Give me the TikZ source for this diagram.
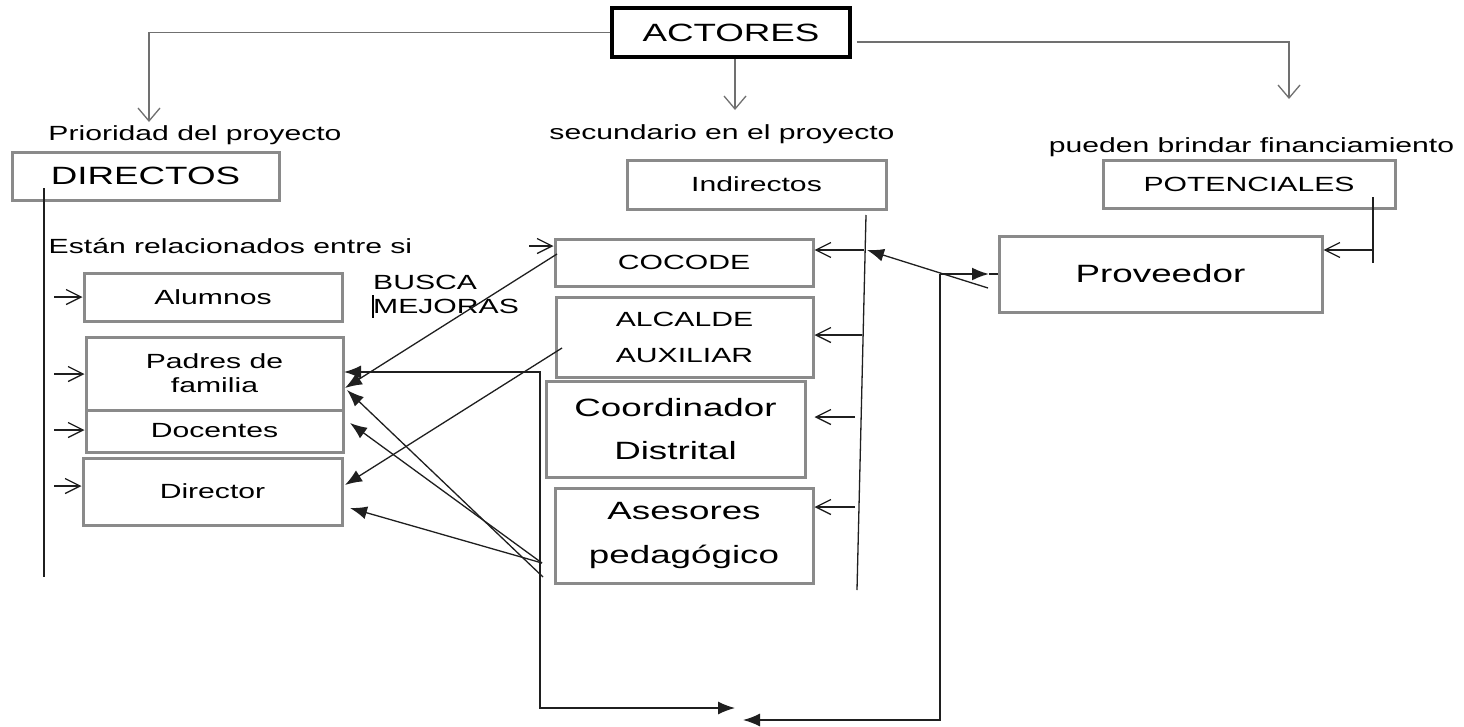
\documentclass[tikz,border=0pt]{standalone}
\usepackage{fontspec}
\setmainfont{Liberation Sans}[FakeStretch=1.47]
\usetikzlibrary{arrows.meta,calc}
\definecolor{boxgray}{HTML}{8A8A8A}
\definecolor{lgray}{HTML}{707070}
\begin{document}
\begin{tikzpicture}[x=1pt,y=-1pt,
  box/.style={draw=boxgray,line width=3pt,inner sep=0pt,align=center},
  fs/.style={font=\fontsize{20.5}{24}\selectfont},
  fb/.style={font=\fontsize{25}{30}\selectfont},
  ln/.style={line width=1.3pt,draw=black!88},
  gl/.style={line width=1.3pt,draw=lgray},
  oa/.style={-{Straight Barb[length=15pt,width=15pt]}},
  ga/.style={-{Straight Barb[length=13pt,width=22pt]}},
  fa/.style={-{Latex[length=17pt,width=13pt]}},
  fda/.style={{Latex[length=17pt,width=13pt]}-{Latex[length=17pt,width=13pt]}},
  lbl/.style={inner sep=0pt}
]
\useasboundingbox (0,0) rectangle (1464,726);
\fill[white] (0,0) rectangle (1464,726);

% ---- boxes ----
\node[box,draw=black,line width=3.5pt,minimum width=238pt,minimum height=49pt,fb] (actores) at (731,32.5) {ACTORES};
\node[box,minimum width=267pt,minimum height=48pt,fb] (directos) at (145.5,176) {DIRECTOS};
\node[box,minimum width=259pt,minimum height=49pt,fs] (indirectos) at (756.5,184.5) {Indirectos};
\node[box,minimum width=292pt,minimum height=48pt,fs] (potenciales) at (1249,184) {POTENCIALES};
\node[box,minimum width=323pt,minimum height=76pt,fb] (proveedor) at (1160.5,274) {Proveedor};

\node[box,minimum width=258pt,minimum height=48pt,fs] (alumnos) at (213,297) {Alumnos};
\node[box,minimum width=257pt,minimum height=73pt,fs] (padres) at (214.5,373.5) {Padres de\\familia};
\node[box,minimum width=257pt,minimum height=42pt,fs] (docentes) at (214.5,431) {Docentes};
\node[box,minimum width=259pt,minimum height=67pt,fs] (director) at (212.5,491.5) {Director};

\node[box,minimum width=258pt,minimum height=47pt,fs] (cocode) at (684,262.5) {COCODE};
\node[box,minimum width=257pt,minimum height=80pt,font=\fontsize{20.5}{36}\selectfont] (alcalde) at (684.5,337) {ALCALDE\\AUXILIAR};
\node[box,minimum width=259pt,minimum height=96pt,font=\fontsize{25}{43}\selectfont] (coord) at (675.5,429) {Coordinador\\Distrital};
\node[box,minimum width=258pt,minimum height=95pt,font=\fontsize{25}{44}\selectfont] (asesores) at (684,535.5) {Asesores\\pedagógico};

% ---- labels ----
\node[lbl,fs] (lprio) at (195,135) {Prioridad del proyecto};
\node[lbl,fs] (lsec) at (722,134) {secundario en el proyecto};
\node[lbl,fs] (lpue) at (1251.5,147) {pueden brindar financiamiento};
\node[lbl,fs] (lest) at (230.5,246) {Están relacionados entre si};
\node[lbl,fs,align=left,anchor=west] (lbus) at (373,294) {BUSCA\\MEJORAS};
\coordinate (car1) at (373,295);
\coordinate (car2) at (373,318);
\draw[line width=1.2pt] (car1) -- (car2);

% ---- ACTORES connectors ----
\coordinate (tl) at (149,122);
\coordinate (tm) at (735,110);
\coordinate (tr) at (1289,99);
\draw[gl,ga] (actores.west) -| (tl);
\draw[gl,ga] (tm |- actores.south) -- (tm);
\draw[gl,ga] ($(actores.east)+(5,9.5)$) -| (tr);

% ---- DIRECTOS column ----
\coordinate (dl1) at (44,188);
\coordinate (dl2) at (44,577);
\draw[ln] (dl1) -- (dl2);
\coordinate (a1) at (54,297);
\coordinate (a2) at (54,374);
\coordinate (a3) at (54,430);
\coordinate (a4) at (54,486);
\draw[ln,oa] (a1) -- (a1 -| alumnos.west);
\draw[ln,oa] (a2) -- (a2 -| padres.west);
\draw[ln,oa] (a3) -- (a3 -| docentes.west);
\draw[ln,oa] (a4) -- (a4 -| director.west);

% ---- Indirectos column ----
\coordinate (ml1) at (866,215);
\coordinate (ml2) at (857,590);
\draw[ln] (ml1) -- (ml2);
\coordinate (m1) at (864,250);
\coordinate (m2) at (862,335);
\coordinate (m3) at (855,417);
\coordinate (m4) at (855,507);
\draw[ln,oa] (m1) -- (m1 -| cocode.east);
\draw[ln,oa] (m2) -- (m2 -| alcalde.east);
\draw[ln,oa] (m3) -- (m3 -| asesores.east);
\draw[ln,oa] (m4) -- (m4 -| asesores.east);

% ---- POTENCIALES -> Proveedor ----
\coordinate (pv1) at (1373,197);
\coordinate (pv2) at (1373,263);
\coordinate (pv3) at (1373,250);
\draw[ln] (pv1) -- (pv2);
\draw[ln,oa] (pv3) -- (pv3 -| proveedor.east);

% ---- Proveedor links ----
\coordinate (j) at (940,274);
\coordinate (s) at (988,288);
\coordinate (p1) at (867,250);
\coordinate (pa) at (989,274);
\coordinate (bt2) at (743,720);
\draw[ln,fa] (s) -- (p1);
\draw[ln,line width=2pt,fa] (j) -- (pa);
\draw[ln] (pa) -- (proveedor.west);
\draw[ln,fa] (j) |- (bt2);

% ---- left loop ----
\coordinate (pt) at (344,372);
\coordinate (c1) at (540,372);
\coordinate (bt1) at (735,708);
\draw[ln,fda] (pt) -- (c1) -- (c1 |- bt1) -- (bt1);

% ---- diagonals ----
\coordinate (cw) at (557,254);
\coordinate (aw) at (562,348);
\coordinate (as1) at (543,577);
\coordinate (as2) at (542,563);
\coordinate (tp) at (345,388);
\coordinate (tp2) at (347,390);
\coordinate (td) at (350,423);
\coordinate (tdi) at (345,485);
\coordinate (tdi2) at (350,508);
\coordinate (ca) at (529,246);
\draw[ln,oa] (ca) -- (ca -| cocode.west);
\draw[ln,fa] (cw) -- (tp);
\draw[ln,fa] (aw) -- (tdi);
\draw[ln,fa] (as1) -- (tp2);
\draw[ln,fa] (as2) -- (td);
\draw[ln,fa] (as2) -- (tdi2);
\end{tikzpicture}
\end{document}
